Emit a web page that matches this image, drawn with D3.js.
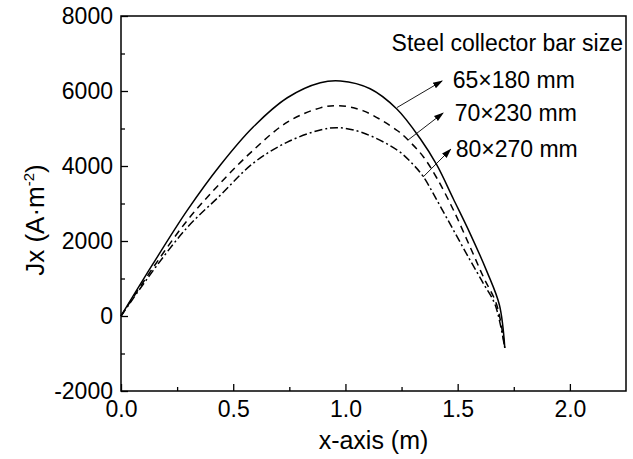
<!DOCTYPE html>
<head>
    <meta charset="utf-8">
    <style>
        body { margin: 0; background: #fff; }
        text { font-family: "Liberation Sans", Arial, sans-serif; fill: #000; }
        .frame { fill: none; stroke: #000; stroke-width: 1.5px; }
        .axis path { display: none; }
        .axis line { stroke: #000; stroke-width: 1.3px; }
        .axis text { font-size: 23px; }
        .curve { fill: none; stroke: #000; stroke-width: 1.5px; }
        .arrow { stroke: #000; stroke-width: 0.9px; }
    </style>
</head>

<body>
    <script src="https://d3js.org/d3.v7.min.js"></script>

    <script>
        var width = 633,
            height = 459,
            plot = {left: 121, right: 626, top: 16, bottom: 391};

        // data
        var x65 = [0, 0.143, 0.295, 0.442, 0.589, 0.741, 0.888, 0.978, 1.11, 1.229, 1.332, 1.407, 1.481, 1.555, 1.63, 1.686, 1.71];
        var y65 = [0, 1394, 2815, 4020, 5040, 5820, 6220, 6267, 6060, 5520, 4739, 4027, 3120, 2205, 1190, 293, -853];
        var x70 = [0, 0.143, 0.295, 0.442, 0.589, 0.741, 0.888, 0.97, 1.08, 1.232, 1.288, 1.347, 1.407, 1.481, 1.555, 1.614, 1.674, 1.71];
        var y70 = [0, 1290, 2547, 3540, 4420, 5170, 5550, 5608, 5470, 4940, 4640, 4248, 3680, 2827, 1848, 1048, 300, -853];
        var x80 = [0, 0.143, 0.295, 0.442, 0.589, 0.741, 0.888, 0.97, 1.08, 1.232, 1.3, 1.347, 1.407, 1.481, 1.555, 1.614, 1.667, 1.71];
        var y80 = [0, 1210, 2360, 3217, 4075, 4638, 4960, 5022, 4880, 4420, 4050, 3715, 3093, 2293, 1493, 872, 300, -853];

        var seriesNames = ["65×180 mm", "70×230 mm", "80×270 mm"];
        var xTicks = [0, 0.5, 1.0, 1.5, 2.0];
        var yTicks = [-2000, 0, 2000, 4000, 6000, 8000];

        // arrows from the curves to the labels (data units)
        var arrowTail = [[1.23, 5560], [1.279, 4693], [1.346, 3707]];
        var arrowTip = [[1.4305, 6267], [1.435, 5413], [1.469, 4445]];
        var labelX = [1.478, 1.487, 1.491];

        var x = d3.scaleLinear().domain([0, 2.25]).range([plot.left, plot.right]);
        var y = d3.scaleLinear().domain([-2000, 8000]).range([plot.bottom, plot.top]);

        var svg = d3.select("body").append("svg")
            .attr("width", width)
            .attr("height", height);

        svg.append("defs").append("marker")
            .attr("id", "head")
            .attr("viewBox", "0 0 10 10")
            .attr("refX", 9).attr("refY", 5)
            .attr("markerWidth", 10).attr("markerHeight", 10)
            .attr("markerUnits", "userSpaceOnUse")
            .attr("orient", "auto")
            .append("path")
            .attr("d", "M0,1.8 L10,5 L0,8.2 Z")
            .attr("fill", "#000");

        //minor ticks
        svg.append("g")
            .attr("class", "axis")
            .attr("transform", "translate(0," + plot.bottom + ")")
            .call(d3.axisBottom(x).tickValues([0.25, 0.75, 1.25, 1.75]).tickSize(-4).tickFormat(""));
        svg.append("g")
            .attr("class", "axis")
            .attr("transform", "translate(" + plot.left + ",0)")
            .call(d3.axisLeft(y).tickValues([-1000, 1000, 3000, 5000, 7000]).tickSize(-4).tickFormat(""));

        //major ticks + labels
        svg.append("g")
            .attr("class", "axis")
            .attr("transform", "translate(0," + plot.bottom + ")")
            .call(d3.axisBottom(x).tickValues(xTicks).tickSize(-7).tickPadding(10).tickFormat(d3.format(".1f")));
        svg.append("g")
            .attr("class", "axis")
            .attr("transform", "translate(" + plot.left + ",0)")
            .call(d3.axisLeft(y).tickValues(yTicks).tickSize(-7).tickPadding(8)
                .tickFormat(function(d) { return String(d); }));

        svg.append("rect")
            .attr("class", "frame")
            .attr("x", plot.left)
            .attr("y", plot.top)
            .attr("width", plot.right - plot.left)
            .attr("height", plot.bottom - plot.top);

        var line = d3.line()
            .curve(d3.curveCatmullRom.alpha(0.5))
            .x(function(d) { return x(d[0]); })
            .y(function(d) { return y(d[1]); });

        var dashes = [null, "7,5", "8,3,2,3"];
        [[x65, y65], [x70, y70], [x80, y80]].forEach(function(s, i) {
            svg.append("path")
                .datum(s[0].map(function(v, j) { return [v, s[1][j]]; }))
                .attr("class", "curve")
                .attr("stroke-dasharray", dashes[i])
                .attr("d", line);
        });

        //arrows and labels
        arrowTail.forEach(function(t, i) {
            svg.append("line")
                .attr("class", "arrow")
                .attr("x1", x(t[0])).attr("y1", y(t[1]))
                .attr("x2", x(arrowTip[i][0])).attr("y2", y(arrowTip[i][1]))
                .attr("marker-end", "url(#head)");
            svg.append("text")
                .attr("x", x(labelX[i]))
                .attr("y", y(arrowTip[i][1]) + 7.5)
                .style("font-size", "23px")
                .text(seriesNames[i]);
        });

        svg.append("text")
            .attr("x", 623)
            .attr("y", 51)
            .style("text-anchor", "end")
            .style("font-size", "23px")
            .text("Steel collector bar size");

        //axis titles
        svg.append("text")
            .attr("x", (plot.left + plot.right) / 2)
            .attr("y", 449)
            .style("text-anchor", "middle")
            .style("font-size", "25px")
            .text("x-axis (m)");

        var ylab = svg.append("text")
            .attr("transform", "translate(44,220) rotate(-90)")
            .style("text-anchor", "middle")
            .style("font-size", "26px");
        ylab.append("tspan").text("Jx (A·m");
        ylab.append("tspan").attr("dy", -10).style("font-size", "15px").text("-2");
        ylab.append("tspan").attr("dy", 10).text(")");
    </script>
</body>
